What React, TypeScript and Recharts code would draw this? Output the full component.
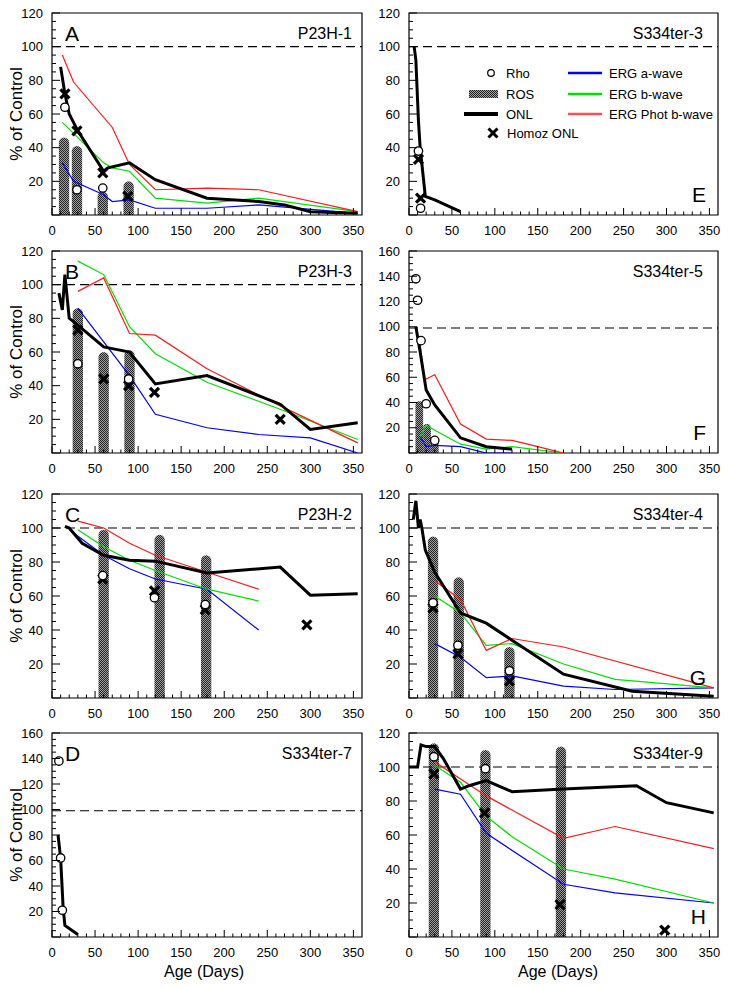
import React from 'react';
import {
  ComposedChart,
  Line,
  Scatter,
  XAxis,
  YAxis,
  ReferenceLine,
  ReferenceArea,
} from 'recharts';

const FONT = "'Liberation Sans', Arial, Helvetica, sans-serif";

type P = [number, number];

// ---------- tick values ----------
const X_TICKS = [0, 10, 20, 30, 40, 50, 60, 70, 80, 90, 100, 110, 120, 130, 140, 150, 160, 170, 180, 190, 200, 210, 220, 230, 240, 250, 260, 270, 280, 290, 300, 310, 320, 330, 340, 350];
const Y_TICKS_120 = [0, 5, 10, 15, 20, 25, 30, 35, 40, 45, 50, 55, 60, 65, 70, 75, 80, 85, 90, 95, 100, 105, 110, 115, 120];
const Y_TICKS_160 = [0, 5, 10, 15, 20, 25, 30, 35, 40, 45, 50, 55, 60, 65, 70, 75, 80, 85, 90, 95, 100, 105, 110, 115, 120, 125, 130, 135, 140, 145, 150, 155, 160];

// ---------- Panel A : P23H-1 ----------
const A_onl: P[] = [[10, 88], [15, 72], [20, 60], [30, 50], [60, 26], [65, 28], [90, 31], [120, 21], [180, 10], [240, 8], [270, 6], [300, 2], [355, 1]];
const A_aWave: P[] = [[12, 31], [25, 20], [60, 12], [70, 8], [90, 9], [120, 4], [180, 4], [240, 6], [355, 1]];
const A_bWave: P[] = [[12, 55], [30, 46], [60, 31], [70, 28], [90, 26], [120, 10], [180, 7], [240, 10], [355, 2]];
const A_phot: P[] = [[12, 95], [25, 79], [70, 52], [90, 30], [120, 15], [180, 16], [240, 15], [355, 2]];
const A_ros: P[] = [[14, 46], [29, 41], [59, 14], [89, 20]];
const A_rho: P[] = [[15, 64], [29, 15], [59, 16]];
const A_homoz: P[] = [[15, 72], [29, 50], [59, 25], [88, 11]];

// ---------- Panel B : P23H-3 ----------
const B_onl: P[] = [[8, 95], [12, 85], [15, 106], [20, 80], [30, 76], [60, 63], [70, 62], [90, 60], [120, 41], [180, 46], [265, 29], [300, 14], [355, 18]];
const B_aWave: P[] = [[30, 86], [60, 66], [90, 46], [120, 23], [180, 15], [240, 11], [300, 9], [355, 0]];
const B_bWave: P[] = [[30, 114], [60, 106], [90, 75], [120, 59], [180, 42], [265, 26], [355, 8]];
const B_phot: P[] = [[30, 96], [60, 104], [90, 71], [120, 70], [180, 50], [265, 28], [355, 6]];
const B_ros: P[] = [[30, 86], [60, 60], [90, 61]];
const B_rho: P[] = [[30, 53], [89, 44]];
const B_homoz: P[] = [[30, 73], [60, 44], [89, 40], [119, 36], [265, 20]];

// ---------- Panel C : P23H-2 ----------
const C_onl: P[] = [[15, 101], [20, 100], [35, 91], [60, 84], [90, 81], [120, 80.5], [180, 73.5], [265, 77], [300, 60.5], [355, 61.3]];
const C_aWave: P[] = [[20, 99], [60, 84], [90, 76], [120, 70], [180, 64], [240, 40]];
const C_bWave: P[] = [[30, 99], [60, 89], [90, 81], [120, 75], [180, 64], [240, 57]];
const C_phot: P[] = [[30, 104], [60, 100], [90, 91], [120, 84], [180, 74], [240, 64]];
const C_ros: P[] = [[60, 99], [125, 96], [179, 84]];
const C_rho: P[] = [[59, 72], [119, 59], [178, 55]];
const C_homoz: P[] = [[59, 70], [119, 63], [178, 52], [296, 43]];

// ---------- Panel D : S334ter-7 ----------
const D_onl: P[] = [[7, 80], [10, 62], [13, 22], [15, 9], [30, 2]];
const D_rho: P[] = [[8, 138], [10, 62], [12, 21]];

// ---------- Panel E : S334ter-3 ----------
const E_onl: P[] = [[6, 100], [8, 92], [11, 56], [13, 40], [19, 11], [30, 9], [60, 2]];
const E_rho: P[] = [[11, 38], [13.5, 4]];
const E_homoz: P[] = [[11, 33], [13.5, 10]];

// ---------- Panel F : S334ter-5 ----------
const F_onl: P[] = [[8, 100], [13, 80], [20, 50], [30, 38], [60, 12], [90, 5], [120, 3]];
const F_aWave: P[] = [[13, 13], [20, 5], [30, 6], [60, 5], [90, 0], [120, 0]];
const F_bWave: P[] = [[13, 13], [20, 22], [30, 18], [60, 7], [90, 3], [120, 5], [180, 0]];
const F_phot: P[] = [[13, 86], [18, 58], [30, 62], [60, 23], [90, 11], [120, 10], [150, 5], [180, 0]];
const F_ros: P[] = [[12, 41], [21, 23], [30, 12]];
const F_rho: P[] = [[8, 138], [10, 121], [14, 89], [20, 39], [30, 10]];

// ---------- Panel G : S334ter-4 ----------
const G_onl: P[] = [[5, 105], [8, 116], [11, 100], [13, 105], [15, 100], [19, 87], [30, 74], [60, 50], [90, 44], [120, 34], [180, 14], [260, 4], [355, 1]];
const G_aWave: P[] = [[30, 32], [60, 24], [90, 12], [120, 13], [180, 7], [240, 5], [355, 6]];
const G_bWave: P[] = [[30, 60], [60, 50], [90, 31], [120, 32], [180, 20], [240, 11], [355, 6]];
const G_phot: P[] = [[30, 69], [60, 58], [90, 28], [120, 35], [180, 30], [355, 6]];
const G_ros: P[] = [[28, 95], [58, 71], [117, 30]];
const G_rho: P[] = [[28, 56], [57, 31], [117, 16]];
const G_homoz: P[] = [[28, 53], [57, 26], [117, 10]];

// ---------- Panel H : S334ter-9 ----------
const H_onl: P[] = [[0, 100], [10, 100], [14, 113], [20, 112], [30, 112], [40, 105], [60, 87], [70, 89], [90, 92], [120, 85.5], [180, 87], [265, 89], [300, 79], [355, 73]];
const H_aWave: P[] = [[30, 87], [60, 84], [90, 61], [180, 31], [240, 26], [355, 20]];
const H_bWave: P[] = [[30, 101], [60, 91], [90, 71], [120, 59], [180, 40], [240, 34], [355, 20]];
const H_phot: P[] = [[30, 103], [90, 83], [180, 58], [240, 65], [355, 52]];
const H_ros: P[] = [[29, 114], [89, 110], [177, 112]];
const H_rho: P[] = [[29, 106], [89, 99]];
const H_homoz: P[] = [[29, 96], [88, 73], [176, 19], [298, 4]];

// ---------- colours ----------
const BLUE = '#0000ff';
const GREEN = '#00e000';
const RED = '#ff1a1a';

interface Panel {
  key: string;
  name: string;
  letter: string;
  col: number;
  row: number;
  yMax: number;
  dash: number;
  rosHalf: number;
  onl: P[];
  a?: P[];
  b?: P[];
  phot?: P[];
  ros?: P[];
  rho?: P[];
  homoz?: P[];
}

const PANELS: Panel[] = [
  { key: 'A', name: 'P23H-1', letter: 'A', col: 0, row: 0, yMax: 120, dash: 100, rosHalf: 6, onl: A_onl, a: A_aWave, b: A_bWave, phot: A_phot, ros: A_ros, rho: A_rho, homoz: A_homoz },
  { key: 'B', name: 'P23H-3', letter: 'B', col: 0, row: 1, yMax: 120, dash: 100, rosHalf: 6, onl: B_onl, a: B_aWave, b: B_bWave, phot: B_phot, ros: B_ros, rho: B_rho, homoz: B_homoz },
  { key: 'C', name: 'P23H-2', letter: 'C', col: 0, row: 2, yMax: 120, dash: 100, rosHalf: 6, onl: C_onl, a: C_aWave, b: C_bWave, phot: C_phot, ros: C_ros, rho: C_rho, homoz: C_homoz },
  { key: 'D', name: 'S334ter-7', letter: 'D', col: 0, row: 3, yMax: 160, dash: 99, rosHalf: 6, onl: D_onl, rho: D_rho },
  { key: 'E', name: 'S334ter-3', letter: 'E', col: 1, row: 0, yMax: 120, dash: 100, rosHalf: 6, onl: E_onl, rho: E_rho, homoz: E_homoz },
  { key: 'F', name: 'S334ter-5', letter: 'F', col: 1, row: 1, yMax: 160, dash: 99, rosHalf: 4.5, onl: F_onl, a: F_aWave, b: F_bWave, phot: F_phot, ros: F_ros, rho: F_rho },
  { key: 'G', name: 'S334ter-4', letter: 'G', col: 1, row: 2, yMax: 120, dash: 100, rosHalf: 6, onl: G_onl, a: G_aWave, b: G_bWave, phot: G_phot, ros: G_ros, rho: G_rho, homoz: G_homoz },
  { key: 'H', name: 'S334ter-9', letter: 'H', col: 1, row: 3, yMax: 120, dash: 100, rosHalf: 6, onl: H_onl, a: H_aWave, b: H_bWave, phot: H_phot, ros: H_ros, rho: H_rho, homoz: H_homoz },
];

// layout (pixels)
const ROW_TOP = [13, 251, 494, 733];
const ROW_H = [202, 202, 204, 204];
const COL_PLOT_LEFT = [52, 409];
const COL_PLOT_W = [310, 309];
const COL_YW = [52, 44];
const TOP_PAD = 11;

const toXY = (pts: P[]) => pts.map(([x, y]) => ({ x, y }));

const XTick = (props: any) => {
  const { x, y, payload } = props;
  const v = payload.value;
  const major = v % 50 === 0;
  return (
    <g>
      <line x1={x} x2={x} y1={y} y2={y - (major ? 7 : 3.5)} stroke="#000" strokeWidth={1} />
      {major && (
        <text x={x} y={y + 15} textAnchor="middle" dominantBaseline="central" fontSize={13} fontFamily={FONT} fill="#000">
          {v}
        </text>
      )}
    </g>
  );
};

const YTick = (props: any) => {
  const { x, y, payload } = props;
  const v = payload.value;
  const major = v % 20 === 0;
  return (
    <g>
      <line x1={x} x2={x + (major ? 8 : 4)} y1={y} y2={y} stroke="#000" strokeWidth={1} />
      {major && v > 0 && (
        <text x={x - 9} y={y} textAnchor="end" dominantBaseline="central" fontSize={13} fontFamily={FONT} fill="#000">
          {v}
        </text>
      )}
    </g>
  );
};

const RhoShape = (props: any) => {
  const { cx, cy } = props;
  if (cx == null || cy == null) return <g />;
  return <circle cx={cx} cy={cy} r={4.2} fill="#fff" stroke="#000" strokeWidth={1.3} />;
};

const XShape = (props: any) => {
  const { cx, cy } = props;
  if (cx == null || cy == null) return <g />;
  const s = 4.5;
  return (
    <g>
      <line x1={cx - s} y1={cy - s} x2={cx + s} y2={cy + s} stroke="#000" strokeWidth={3.2} />
      <line x1={cx - s} y1={cy + s} x2={cx + s} y2={cy - s} stroke="#000" strokeWidth={3.2} />
    </g>
  );
};

const RosShape = (props: any) => {
  const { x, y, width, height } = props;
  if (![x, y, width, height].every((v) => typeof v === 'number' && isFinite(v))) return <g />;
  const r = width / 2;
  const h = Math.max(height, r);
  const d = `M ${x} ${y + h} L ${x} ${y + r} A ${r} ${r} 0 0 1 ${x + width} ${y + r} L ${x + width} ${y + h} Z`;
  return <path d={d} fill="url(#rosPattern)" stroke="none" />;
};

function PanelChart({ p }: { p: Panel }) {
  const yw = COL_YW[p.col];
  const left = COL_PLOT_LEFT[p.col] - yw;
  const top = ROW_TOP[p.row] - TOP_PAD;
  const plotH = ROW_H[p.row];
  const xh = 30;
  const width = yw + COL_PLOT_W[p.col] + 6;
  const height = TOP_PAD + plotH + xh;
  const yTicks = p.yMax === 160 ? Y_TICKS_160 : Y_TICKS_120;
  return (
    <div style={{ position: 'absolute', left, top, width, height }}>
      <ComposedChart width={width} height={height} margin={{ top: TOP_PAD, right: 6, bottom: 0, left: 0 }}>
        <XAxis
          type="number"
          dataKey="x"
          domain={[0, 360]}
          ticks={X_TICKS}
          interval={0}
          allowDataOverflow
          tick={<XTick />}
          tickLine={false}
          axisLine={false}
          tickSize={0}
          tickMargin={0}
          height={xh}
        />
        <YAxis
          type="number"
          dataKey="y"
          domain={[0, p.yMax]}
          ticks={yTicks}
          interval={0}
          allowDataOverflow
          tick={<YTick />}
          tickLine={false}
          axisLine={false}
          tickSize={0}
          tickMargin={0}
          width={yw}
        />
        {(p.ros || []).map(([x, v], i) => (
          <ReferenceArea
            key={'ros' + i}
            x1={x - p.rosHalf}
            x2={x + p.rosHalf}
            y1={0}
            y2={v}
            shape={<RosShape />}
            ifOverflow="visible"
          />
        ))}
        <ReferenceLine y={p.dash} stroke="#000" strokeWidth={1.1} strokeDasharray="9 5" />
        <ReferenceArea x1={0} x2={360} y1={0} y2={p.yMax} fill="none" fillOpacity={0} stroke="#000" strokeWidth={1.2} />
        {p.a && <Line data={toXY(p.a)} dataKey="y" stroke={BLUE} strokeWidth={1.2} dot={false} isAnimationActive={false} type="linear" />}
        {p.b && <Line data={toXY(p.b)} dataKey="y" stroke={GREEN} strokeWidth={1.2} dot={false} isAnimationActive={false} type="linear" />}
        {p.phot && <Line data={toXY(p.phot)} dataKey="y" stroke={RED} strokeWidth={1.2} dot={false} isAnimationActive={false} type="linear" />}
        <Line data={toXY(p.onl)} dataKey="y" stroke="#000" strokeWidth={3} dot={false} isAnimationActive={false} type="linear" />
        {p.homoz && <Scatter data={toXY(p.homoz)} dataKey="y" shape={<XShape />} isAnimationActive={false} />}
        {p.rho && <Scatter data={toXY(p.rho)} dataKey="y" shape={<RhoShape />} isAnimationActive={false} />}
      </ComposedChart>
    </div>
  );
}

function Overlay() {
  const txt = { fontFamily: FONT, fill: '#000' } as const;
  return (
    <svg width={729} height={988} style={{ position: 'absolute', left: 0, top: 0, pointerEvents: 'none' }}>
      <defs>
        <pattern id="rosPattern" width={2} height={2} patternUnits="userSpaceOnUse">
          <rect x={0} y={0} width={2} height={2} fill="#a0a0a0" />
          <rect x={0} y={0} width={1} height={1} fill="#222" />
          <rect x={1} y={1} width={1} height={1} fill="#222" />
        </pattern>
      </defs>
      {/* axis titles */}
      {ROW_TOP.map((t, i) => {
        const cy = t + ROW_H[i] / 2;
        return (
          <text key={'yt' + i} x={16} y={cy} transform={`rotate(-90 16 ${cy})`} textAnchor="middle" dominantBaseline="central" fontSize={17} {...txt}>
            % of Control
          </text>
        );
      })}
      <text x={204} y={971} textAnchor="middle" dominantBaseline="central" fontSize={16} {...txt}>Age (Days)</text>
      <text x={558} y={971} textAnchor="middle" dominantBaseline="central" fontSize={16} {...txt}>Age (Days)</text>
      {/* panel letters and names */}
      {PANELS.map((p) => {
        const top = ROW_TOP[p.row];
        const bottom = top + ROW_H[p.row];
        const right = COL_PLOT_LEFT[p.col] + COL_PLOT_W[p.col];
        const left = COL_PLOT_LEFT[p.col];
        return (
          <g key={'lbl' + p.key}>
            <text x={right - (p.col === 0 ? 10 : 15)} y={top + 20} textAnchor="end" dominantBaseline="central" fontSize={16} {...txt}>
              {p.name}
            </text>
            {p.col === 0 ? (
              <text x={left + 13} y={top + 20} textAnchor="start" dominantBaseline="central" fontSize={21} {...txt}>
                {p.letter}
              </text>
            ) : (
              <text x={right - 12} y={bottom - 21} textAnchor="end" dominantBaseline="central" fontSize={21} {...txt}>
                {p.letter}
              </text>
            )}
          </g>
        );
      })}
      {/* legend (panel E) */}
      <circle cx={491} cy={73} r={3.3} fill="#fff" stroke="#000" strokeWidth={1.2} />
      <text x={506} y={73} dominantBaseline="central" fontSize={13} {...txt}>Rho</text>
      <rect x={469} y={90} width={29} height={8} fill="url(#rosPattern)" />
      <text x={506} y={94} dominantBaseline="central" fontSize={13} {...txt}>ROS</text>
      <line x1={464} x2={498} y1={114} y2={114} stroke="#000" strokeWidth={4} />
      <text x={506} y={114} dominantBaseline="central" fontSize={13} {...txt}>ONL</text>
      <line x1={488.5} y1={128.5} x2={497.5} y2={137.5} stroke="#000" strokeWidth={3} />
      <line x1={488.5} y1={137.5} x2={497.5} y2={128.5} stroke="#000" strokeWidth={3} />
      <text x={507} y={133} dominantBaseline="central" fontSize={13} {...txt}>Homoz ONL</text>
      <line x1={568} x2={602} y1={73} y2={73} stroke={BLUE} strokeWidth={2.5} />
      <text x={609} y={73} dominantBaseline="central" fontSize={13} {...txt}>ERG a-wave</text>
      <line x1={568} x2={602} y1={94} y2={94} stroke={GREEN} strokeWidth={2.5} />
      <text x={609} y={94} dominantBaseline="central" fontSize={13} {...txt}>ERG b-wave</text>
      <line x1={568} x2={602} y1={114} y2={114} stroke="#ff5050" strokeWidth={2.5} />
      <text x={609} y={114} dominantBaseline="central" fontSize={13} {...txt}>ERG Phot b-wave</text>
    </svg>
  );
}

export default function App() {
  return (
    <div style={{ position: 'absolute', left: 0, top: 0, width: 729, height: 988, background: '#fff', fontFamily: FONT }}>
      {PANELS.map((p) => (
        <PanelChart key={p.key} p={p} />
      ))}
      <Overlay />
    </div>
  );
}
